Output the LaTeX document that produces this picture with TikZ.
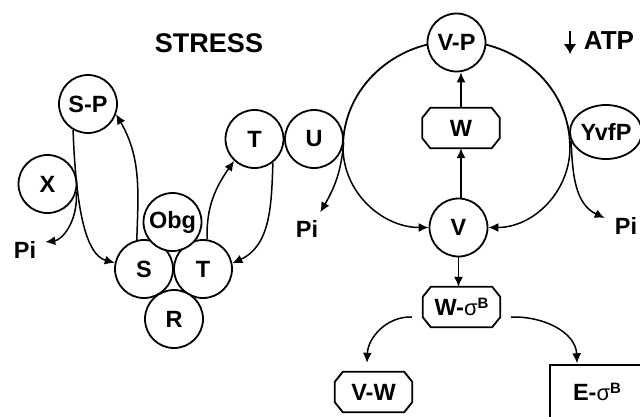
\documentclass[tikz,border=0pt]{standalone}
\usepackage{fontspec}
\setmainfont{Liberation Sans}
\usetikzlibrary{arrows.meta,shapes.geometric}
\newcommand{\sigB}{{\mdseries\fontsize{22}{22}\selectfont σ}\raisebox{6.5pt}{\fontsize{15}{15}\selectfont B}}
\newcommand{\octdraw}[1]{\draw[octline] ([xshift=8pt]#1.north west) -- ([xshift=-8pt]#1.north east)
  -- ([yshift=-10pt]#1.north east) -- ([yshift=10pt]#1.south east) -- ([xshift=-8pt]#1.south east)
  -- ([xshift=8pt]#1.south west) -- ([yshift=10pt]#1.south west) -- ([yshift=-10pt]#1.north west) -- cycle;}
\begin{document}
\begin{tikzpicture}[x=1pt,y=1pt,
  every node/.style={font=\fontsize{23.5}{26}\selectfont\bfseries},
  circ/.style={circle,draw,line width=1.8pt,fill=white,minimum size=58pt,inner sep=0pt},
  oct/.style={rectangle,minimum width=77pt,minimum height=40pt,inner sep=0pt},
  octline/.style={line width=1.8pt,line join=miter},
  lbl/.style={inner sep=0pt},
  arr/.style={line width=1.5pt,-{Latex[length=10pt,width=9pt]}},
  curve/.style={line width=1.8pt}]
\useasboundingbox (0,0) rectangle (640,-416);
\clip (0,0) rectangle (640,-416);
\fill[white] (0,0) rectangle (640,-416);

% big ring (upper half)
\coordinate (BL) at (343,-147);
\coordinate (BR) at (570,-147);
\draw[curve] (BL) arc[start angle=180,end angle=0,x radius=113.5,y radius=106];

% left complex
\node[circ] (SP) at (88,-104) {S-P};
\node[circ] (X) at (47.5,-184) {X};
\node[circ] (Tu) at (254.5,-139) {T};
\node[circ] (U) at (314,-139) {U};
\node[circ] (S) at (144,-269) {S};
\node[circ] (Tl) at (203,-269) {T};
\node[circ] (Obg) at (172.5,-222) {Obg};
\node[circ] (R) at (174,-319) {R};

% right part
\node[circ] (VP) at (456.5,-42.5) {V-P};
\node[circ] (V) at (458.5,-227.5) {V};
\node[oct] (W) at (461,-128) {W};
\node[oct] (WsB) at (461.5,-307) {W-\sigB};
\node[oct] (VW) at (373.5,-392) {V-W};
\octdraw{W}
\octdraw{WsB}
\octdraw{VW}
\node[ellipse,draw,line width=1.8pt,fill=white,minimum width=68pt,minimum height=54pt,inner sep=0pt] (Y) at (606,-132) {YvfP};
\node[draw,line width=1.8pt,minimum width=94pt,minimum height=54pt,inner sep=0pt] (E) at (597,-392) {E-\sigB};

% labels
\node[lbl,font=\fontsize{27}{30}\selectfont\bfseries] (stress) at (209,-43.5) {STRESS};
\node[lbl,font=\fontsize{26}{29}\selectfont\bfseries] (ATP) at (609,-41) {ATP};
\coordinate (a1) at (570,-31);
\coordinate (a2) at (570,-54);
\draw[line width=2.6pt,-{Latex[length=10pt,width=13pt]}] (a1) -- (a2);
\node[lbl] (Pi1) at (25,-250) {Pi};
\node[lbl] (Pi2) at (307,-229) {Pi};
\node[lbl] (Pi3) at (626,-226) {Pi};

% connectors left
\draw[arr] (SP.240) .. controls (76,-210) and (86,-255) .. (S.168);
\draw[arr] (X.-15) .. controls (78,-222) and (62,-240) .. ([shift={(9pt,8pt)}]Pi1.east);
\draw[arr] (S.104) to[out=88,in=-60] (SP.-20);
\draw[arr] (Tl.82) to[out=92,in=-125] (Tu.227);
\draw[arr] (Tu.-52) to[out=-92,in=25] (Tl.11);
\draw[arr] (U.-8) to[out=-95,in=60] ([shift={(2pt,8pt)}]Pi2.north east);

% ring lower arcs
\draw[arr] (BL) to[out=-90,in=180] (V.west);
\draw[arr] (BR) to[out=-90,in=0] (V.east);
\draw[arr] (Y.195) to[out=-88,in=155] ([shift={(-10pt,8pt)}]Pi3.west);

% vertical arrows
\draw[arr] (V.north -| W.south) -- (W.south);
\draw[arr] (W.north) -- (W.north |- VP.south);
\draw[arr] (V.south) -- (V.south |- WsB.north);

% bottom branches
\draw[arr] ([shift={(-11pt,-10pt)}]WsB.west) to[out=178,in=88] ([shift={(-6.5pt,9pt)}]VW.north);
\draw[arr] ([shift={(11pt,-10pt)}]WsB.east) to[out=2,in=92] ([shift={(-20pt,0.8pt)}]E.north);
\end{tikzpicture}
\end{document}
